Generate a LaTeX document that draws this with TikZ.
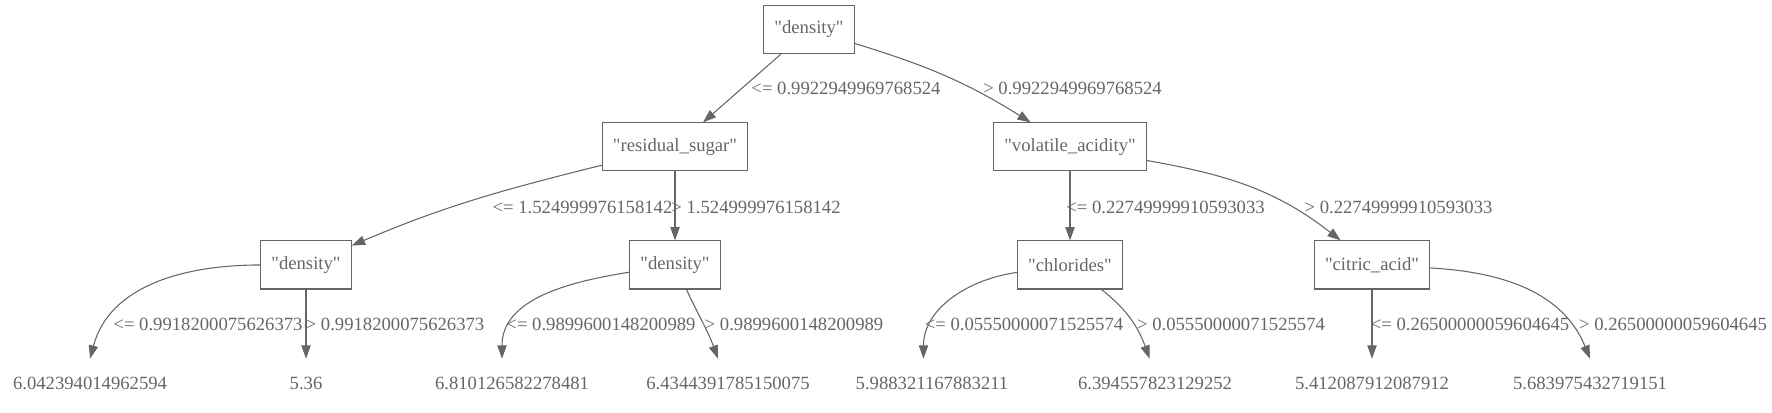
\documentclass[tikz,border=0pt]{standalone}
\usepackage{fontspec}
\setmainfont{Liberation Serif}[Ligatures=TeXOff]
\usetikzlibrary{calc,positioning,arrows.meta}
\definecolor{treegray}{HTML}{666666}
\tikzset{
	%Define standard arrow tip
	>={Triangle[length=10pt,width=7pt]},
	%Define style for split boxes
	splitbox/.style={
		rectangle,
		draw=treegray, line width=0.8pt,
		text=treegray,
		minimum width=54pt,
		minimum height=36pt,
		inner xsep=8pt,
		font=\fontsize{14}{17}\selectfont},
	%Define style for leaf values
	leafval/.style={
		rectangle,
		text=treegray,
		minimum height=36pt,
		inner xsep=8pt,
		font=\fontsize{14}{17}\selectfont},
	%Define style for cut labels
	cutlabel/.style={text=treegray, inner sep=0pt, font=\fontsize{14}{17}\selectfont},
	% Define arrow style
	branch/.style={
		->,
		draw=treegray,
		line width=0.8pt}
}

\begin{document}
\begin{tikzpicture}[x=0.75pt, y=0.75pt, on grid]
	\useasboundingbox (0,0) rectangle (1772,-413);
	% node root
	\node[splitbox] (root) at (809,-29.5) {"density"};
	% node residual_sugar
	\node[splitbox, below left=88.1pt and 100.5pt of root] (rsugar) {"residual\_sugar"};
	% node volatile_acidity
	\node[splitbox, below right=88.1pt and 195.75pt of root] (vacid) {"volatile\_acidity"};
	% node density (left)
	\node[splitbox, below left=88.5pt and 276.75pt of rsugar] (dens1) {"density"};
	% node density (right)
	\node[splitbox, below=88.5pt of rsugar] (dens2) {"density"};
	% node chlorides
	\node[splitbox, below=88.5pt of vacid] (chlor) {"chlorides"};
	% node citric_acid
	\node[splitbox, below right=88.5pt and 226.5pt of vacid] (citric) {"citric\_acid"};
	% leaves
	\node[leafval, below left=88.5pt and 162pt of dens1] (leaf1) {6.042394014962594};
	\node[leafval, below=88.5pt of dens1] (leaf2) {5.36};
	\node[leafval, below left=88.5pt and 122.25pt of dens2] (leaf3) {6.810126582278481};
	\node[leafval, below right=88.5pt and 39.75pt of dens2] (leaf4) {6.4344391785150075};
	\node[leafval, below left=88.5pt and 103.5pt of chlor] (leaf5) {5.988321167883211};
	\node[leafval, below right=88.5pt and 63.75pt of chlor] (leaf6) {6.394557823129252};
	\node[leafval, below=88.5pt of citric] (leaf7) {5.412087912087912};
	\node[leafval, below right=88.5pt and 163.5pt of citric] (leaf8) {5.683975432719151};
	% cut labels
	\node[cutlabel] (c1lo) at ($(root)+(37,-58.5)$) {<= 0.9922949969768524};
	\node[cutlabel] (c1hi) at ($(root)+(263.5,-58.5)$) {> 0.9922949969768524};
	\node[cutlabel] (c2lo) at ($(rsugar)+(-92.5,-60)$) {<= 1.524999976158142};
	\node[cutlabel] (c2hi) at ($(rsugar)+(81,-60)$) {> 1.524999976158142};
	\node[cutlabel] (c3lo) at ($(vacid)+(95.5,-60)$) {<= 0.22749999910593033};
	\node[cutlabel] (c3hi) at ($(vacid)+(328.5,-60)$) {> 0.22749999910593033};
	\node[cutlabel] (c4lo) at ($(dens1)+(-98,-59)$) {<= 0.9918200075626373};
	\node[cutlabel] (c4hi) at ($(dens1)+(89,-59)$) {> 0.9918200075626373};
	\node[cutlabel] (c5lo) at ($(dens2)+(-74,-59)$) {<= 0.9899600148200989};
	\node[cutlabel] (c5hi) at ($(dens2)+(119,-59)$) {> 0.9899600148200989};
	\node[cutlabel] (c6lo) at ($(chlor)+(-46,-59)$) {<= 0.05550000071525574};
	\node[cutlabel] (c6hi) at ($(chlor)+(161,-59)$) {> 0.05550000071525574};
	\node[cutlabel] (c7lo) at ($(citric)+(98,-59)$) {<= 0.26500000059604645};
	\node[cutlabel] (c7hi) at ($(citric)+(301,-59)$) {> 0.26500000059604645};
	% branches
	\draw[branch] (root) -- (rsugar);
	\draw[branch] (root) to[out=-17,in=148] (vacid);
	\draw[branch] (rsugar) to[out=-166,in=23] (dens1);
	\draw[branch] (rsugar) -- (dens2);
	\draw[branch] (vacid) -- (chlor);
	\draw[branch] (vacid) to[out=-10,in=142] (citric);
	\draw[branch] (dens1) to[out=180,in=75] (leaf1.north);
	\draw[branch] (dens1) -- (leaf2);
	\draw[branch] (dens2) to[out=-171,in=90] ([xshift=-7.5pt]leaf3.north);
	\draw[branch] (dens2) to[out=-65,in=110] ([xshift=-7.5pt]leaf4.north);
	\draw[branch] (chlor) to[out=-172,in=90] ([xshift=-6.4pt]leaf5.north);
	\draw[branch] (chlor) to[out=-38,in=110] ([xshift=-4pt]leaf6.north);
	\draw[branch] (citric) -- (leaf7);
	\draw[branch] (citric) to[out=-3,in=112] (leaf8.north);
\end{tikzpicture}
\end{document}
